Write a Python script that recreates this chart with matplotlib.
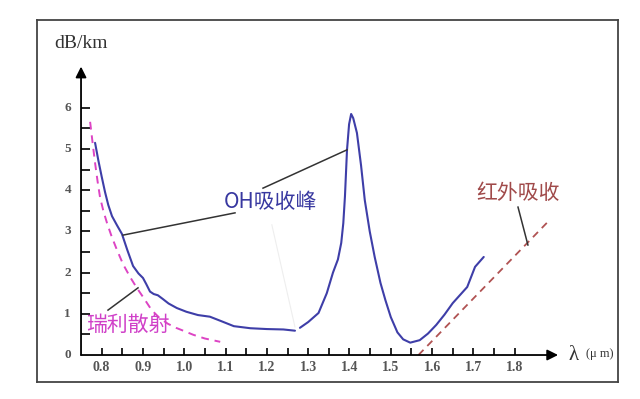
import numpy as np
import matplotlib.pyplot as plt

plt.rcParams['font.family'] = ['Liberation Serif', 'DejaVu Serif']
CJK = ['Noto Sans CJK SC', 'DejaVu Sans']

# OH absorption curve (blue), split at the small gap near 1.27 um
oh_x1 = [0.784, 0.792, 0.80, 0.808, 0.816, 0.825, 0.837, 0.849, 0.862, 0.876, 0.889, 0.90,
         0.908, 0.917, 0.926, 0.936, 0.948, 0.962, 0.982, 1.005, 1.033, 1.062,
         1.09, 1.12, 1.16, 1.20, 1.24, 1.268]
oh_y1 = [5.15, 4.72, 4.33, 3.96, 3.64, 3.37, 3.15, 2.94, 2.55, 2.16, 1.98, 1.87,
         1.72, 1.54, 1.48, 1.45, 1.36, 1.25, 1.14, 1.05, 0.97, 0.93,
         0.82, 0.70, 0.65, 0.63, 0.62, 0.59]
oh_x2 = [1.28, 1.30, 1.325, 1.345, 1.36, 1.372, 1.38, 1.385, 1.389, 1.394, 1.399, 1.404,
         1.409, 1.418, 1.428, 1.437, 1.449, 1.461, 1.475, 1.487, 1.50, 1.516, 1.53,
         1.547, 1.57, 1.59, 1.61, 1.63, 1.65, 1.685, 1.704, 1.725]
oh_y2 = [0.66, 0.80, 1.02, 1.50, 2.00, 2.32, 2.72, 3.20, 3.85, 4.98, 5.60, 5.85,
         5.75, 5.39, 4.60, 3.76, 3.00, 2.38, 1.75, 1.33, 0.92, 0.55, 0.38,
         0.30, 0.36, 0.52, 0.73, 0.98, 1.26, 1.65, 2.14, 2.38]

# Rayleigh scattering (magenta dashed)
ray_x = [0.772, 0.778, 0.784, 0.79, 0.796, 0.804, 0.813, 0.824, 0.837, 0.852, 0.869,
         0.885, 0.90, 0.921, 0.94, 0.96, 0.98, 1.00, 1.022, 1.05, 1.087]
ray_y = [5.66, 5.15, 4.66, 4.22, 3.83, 3.50, 3.20, 2.88, 2.55, 2.20, 1.89,
         1.63, 1.41, 1.09, 0.90, 0.76, 0.66, 0.58, 0.49, 0.40, 0.32]

# infrared absorption (red dashed)
ir_x = [1.567, 1.88]
ir_y = [0.0, 3.23]

xticks_major = [0.8, 0.9, 1.0, 1.1, 1.2, 1.3, 1.4, 1.5, 1.6, 1.7, 1.8]
xticks_minor = [0.85, 0.95, 1.05, 1.15, 1.25, 1.35, 1.45, 1.55, 1.65, 1.75]
yticks = [0, 1, 2, 3, 4, 5, 6]
yticks_minor = [0.5, 1.5, 2.5, 3.5, 4.5, 5.5]

fig = plt.figure(figsize=(6.4, 3.99), dpi=100)
ax = fig.add_axes([37 / 640, 17 / 399, 581 / 640, 362 / 399])
ax.set_xlim(0.6434, 2.0501)
ax.set_ylim(-0.655, 8.131)
ax.set_xticks([])
ax.set_yticks([])
for s in ax.spines.values():
    s.set_color('#444444')
    s.set_linewidth(1.3)

# axes with arrows
ax.annotate('', xy=(0.75, 7.0), xytext=(0.75, 0),
            arrowprops=dict(arrowstyle='-|>', color='black', lw=1.3,
                            mutation_scale=16, shrinkA=0, shrinkB=0))
ax.annotate('', xy=(1.905, 0), xytext=(0.75, 0),
            arrowprops=dict(arrowstyle='-|>', color='black', lw=1.3,
                            mutation_scale=16, shrinkA=0, shrinkB=0))

# ticks
ax.hlines(yticks[1:] + yticks_minor, 0.75, 0.772, color='black', lw=1.2)
ax.vlines(xticks_major + xticks_minor, 0, 0.17, color='black', lw=1.2)
for t in yticks:
    ax.text(0.718, t, str(t), ha='center', va='center', fontsize=9.5,
            color='#555555', fontweight='bold')
for t in xticks_major:
    ax.text(t, -0.3, '%.1f' % t, ha='center', va='center', fontsize=10,
            color='#555555', fontweight='bold')

ax.text(0.75, 7.57, 'dB/km', ha='center', va='center', fontsize=14, color='#333333')
ax.text(1.942, 0.0, 'λ', ha='center', va='center', fontsize=15, color='#333333')
ax.text(2.007, 0.03, '(μ m)', ha='center', va='center', fontsize=9, color='#333333')

# curves
ax.plot(oh_x1, oh_y1, color='#3e3ea8', lw=1.5, solid_capstyle='round', solid_joinstyle='round')
ax.plot(oh_x2, oh_y2, color='#3e3ea8', lw=1.5, solid_capstyle='round', solid_joinstyle='round')
ax.plot(ray_x, ray_y, color='#dd44c4', lw=1.4, ls=(0, (4, 3)))
ax.plot(ir_x, ir_y, color='#b05252', lw=1.3, ls=(0, (4, 3)))

# leader lines
ax.plot([0.8516, 1.1228], [2.91, 3.45], color='#333333', lw=1.1)
ax.plot([1.1906, 1.394], [4.05, 4.98], color='#333333', lw=1.1)
ax.plot([0.8153, 0.888], [1.09, 1.63], color='#333333', lw=1.1)
ax.plot([1.808, 1.832], [3.59, 2.67], color='#333333', lw=1.1)
ax.plot([1.212, 1.268], [3.16, 0.68], color='#eeeeee', lw=0.8)

ax.text(1.208, 3.71, 'OH吸收峰', ha='center', va='center', fontsize=15,
        color='#3838a0', family=CJK)
ax.text(0.864, 0.73, '瑞利散射', ha='center', va='center', fontsize=15,
        color='#d040c8', family=CJK)
ax.text(1.808, 3.93, '红外吸收', ha='center', va='center', fontsize=15,
        color='#a04a4a', family=CJK)

fig.savefig('out.png', dpi=100)
